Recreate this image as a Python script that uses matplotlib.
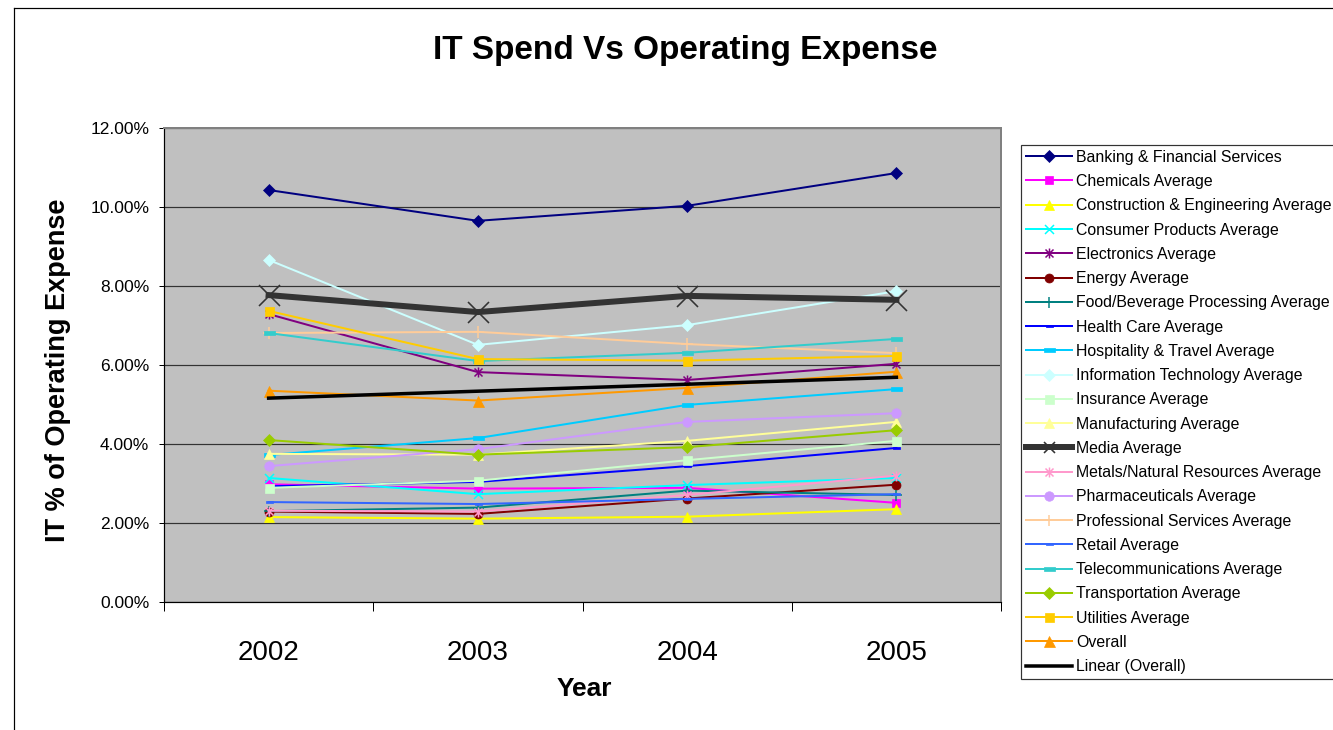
import numpy as np
import matplotlib
matplotlib.use("Agg")
import matplotlib.pyplot as plt
from matplotlib.path import Path
from matplotlib.lines import Line2D
from matplotlib.ticker import FixedLocator, FuncFormatter

plt.rcParams['font.family'] = ['Liberation Sans', 'DejaVu Sans']

years = ["2002", "2003", "2004", "2005"]

# IT spend as % of operating expense, by industry
banking = [10.43, 9.65, 10.03, 10.86]
chemicals = [2.98, 2.87, 2.89, 2.51]
construction = [2.15, 2.11, 2.16, 2.35]
consumer_products = [3.14, 2.73, 2.96, 3.14]
electronics = [7.29, 5.82, 5.62, 6.03]
energy = [2.29, 2.23, 2.62, 2.97]
food_beverage = [2.30, 2.39, 2.82, 2.71]
health_care = [2.93, 3.04, 3.44, 3.90]
hospitality = [3.72, 4.15, 4.99, 5.39]
info_tech = [8.66, 6.51, 7.01, 7.87]
insurance = [2.89, 3.07, 3.59, 4.08]
manufacturing = [3.75, 3.73, 4.08, 4.56]
media = [7.77, 7.34, 7.75, 7.65]
metals = [2.31, 2.29, 2.71, 3.20]
pharma = [3.44, 3.87, 4.56, 4.78]
professional = [6.81, 6.84, 6.53, 6.30]
retail = [2.53, 2.48, 2.61, 2.73]
telecom = [6.81, 6.10, 6.31, 6.66]
transportation = [4.10, 3.73, 3.92, 4.35]
utilities = [7.37, 6.15, 6.11, 6.23]
overall = [5.35, 5.10, 5.42, 5.83]

# custom Excel-style markers
asterisk = Path([(-1, -1), (1, 1), (-1, 1), (1, -1), (0, -1.25), (0, 1.25)],
                [Path.MOVETO, Path.LINETO, Path.MOVETO, Path.LINETO, Path.MOVETO, Path.LINETO])
dash = Path([(-1, -0.3), (1, -0.3), (1, 0.3), (-1, 0.3), (-1, -0.3)],
            [Path.MOVETO, Path.LINETO, Path.LINETO, Path.LINETO, Path.CLOSEPOLY])

px = 0.72  # points per pixel at dpi 100

series = [
    ("Banking & Financial Services", banking, "#000080", "D", 7.8),
    ("Chemicals Average", chemicals, "#FF00FF", "s", 7.5),
    ("Construction & Engineering Average", construction, "#FFFF00", "^", 10),
    ("Consumer Products Average", consumer_products, "#00FFFF", "x", 9),
    ("Electronics Average", electronics, "#800080", asterisk, 10),
    ("Energy Average", energy, "#800000", "o", 9),
    ("Food/Beverage Processing Average", food_beverage, "#008080", "+", 11),
    ("Health Care Average", health_care, "#0000FF", dash, 7),
    ("Hospitality & Travel Average", hospitality, "#00CCFF", dash, 11),
    ("Information Technology Average", info_tech, "#CCFFFF", "D", 7.8),
    ("Insurance Average", insurance, "#CCFFCC", "s", 9),
    ("Manufacturing Average", manufacturing, "#FFFF99", "^", 10),
    ("Media Average", media, "#333333", "x", 21),
    ("Metals/Natural Resources Average", metals, "#FF99CC", asterisk, 10),
    ("Pharmaceuticals Average", pharma, "#CC99FF", "o", 9.5),
    ("Professional Services Average", professional, "#FFCC99", "+", 12),
    ("Retail Average", retail, "#3366FF", dash, 7),
    ("Telecommunications Average", telecom, "#33CCCC", dash, 11),
    ("Transportation Average", transportation, "#99CC00", "D", 7.8),
    ("Utilities Average", utilities, "#FFCC00", "s", 9),
    ("Overall", overall, "#FF9900", "^", 11),
]

fig = plt.figure(figsize=(13.33, 7.30), dpi=100)
W, H = 1333, 730
ax = fig.add_axes([164 / W, 1 - 602 / H, (1001 - 164) / W, (602 - 128) / H])
ax.set_facecolor("#C0C0C0")

x = np.arange(len(years))
handles = []
for name, vals, color, marker, msz in series:
    is_media = name == "Media Average"
    lw = 6 * px if is_media else 2 * px
    line_markers = isinstance(marker, Path) and marker is asterisk or marker in ("x", "+")
    mew = (1.6 * px if is_media else 1.5 * px) if line_markers else 0.5
    style = dict(color=color, lw=lw, marker=marker, mfc=color, mec=color, mew=mew,
                 solid_joinstyle="miter")
    ax.plot(x, vals, ms=msz * px, label=name, clip_on=False, zorder=3, **style)
    # legend keys use a compact marker size
    handles.append(Line2D([], [], ms=min(msz, 11) * px, label=name, **style))

# linear trend of the overall average
coef = np.polyfit(x, overall, 1)
trend, = ax.plot(x, np.polyval(coef, x), color="black", lw=3.5 * px,
                 label="Linear (Overall)", zorder=4)
handles.append(trend)

ax.set_xlim(-0.5, 3.5)
ax.set_ylim(0, 12)
ax.yaxis.set_major_locator(FixedLocator(np.arange(0, 12.1, 2)))
ax.yaxis.set_major_formatter(FuncFormatter(lambda v, p: f"{v:.2f}%"))
ax.grid(axis="y", color="#333333", lw=1.2 * px, zorder=1)
ax.set_axisbelow(True)

ax.set_xticks(x)
ax.set_xticklabels(years, fontsize=20)
ax.set_xticks(np.arange(-0.5, 3.6, 1), minor=True)
ax.tick_params(axis="x", which="major", length=0, pad=27)
ax.tick_params(axis="x", which="minor", length=9 * px, width=1 * px, direction="out", color="black")
ax.tick_params(axis="y", length=5 * px, width=1 * px, direction="out", labelsize=12.5, pad=7, color="black")

for side in ("top", "right"):
    ax.spines[side].set_color("#808080")
    ax.spines[side].set_linewidth(2 * px)
for side in ("left", "bottom"):
    ax.spines[side].set_color("black")
    ax.spines[side].set_linewidth(1.2 * px)

fig.text(685 / W, 1 - 50 / H, "IT Spend Vs Operating Expense", ha="center", va="center",
         fontsize=24, fontweight="bold")
fig.text(58 / W, 1 - 370 / H, "IT % of Operating Expense", ha="center", va="center",
         rotation=90, fontsize=19.5, fontweight="bold")
fig.text(584 / W, 1 - 689 / H, "Year", ha="center", va="center",
         fontsize=19, fontweight="bold")

leg = fig.legend(handles=handles, loc="upper left", bbox_to_anchor=(1021 / W, 1 - 145 / H),
                 bbox_transform=fig.transFigure, borderaxespad=0, frameon=True,
                 fancybox=False, shadow=False, fontsize=11.4, numpoints=1,
                 handlelength=2.9, handletextpad=0.3, labelspacing=0.585,
                 borderpad=0.3)
leg.get_frame().set_edgecolor("black")
leg.get_frame().set_linewidth(1.2 * px)

# outer chart border
fig.add_artist(Line2D([13.5 / W, 13.5 / W], [0, 1 - 7.5 / H], color="black", lw=1.2 * px,
                      transform=fig.transFigure))
fig.add_artist(Line2D([13.5 / W, 1], [1 - 7.5 / H, 1 - 7.5 / H], color="black", lw=1.2 * px,
                      transform=fig.transFigure))

fig.savefig("out.png", dpi=100)
